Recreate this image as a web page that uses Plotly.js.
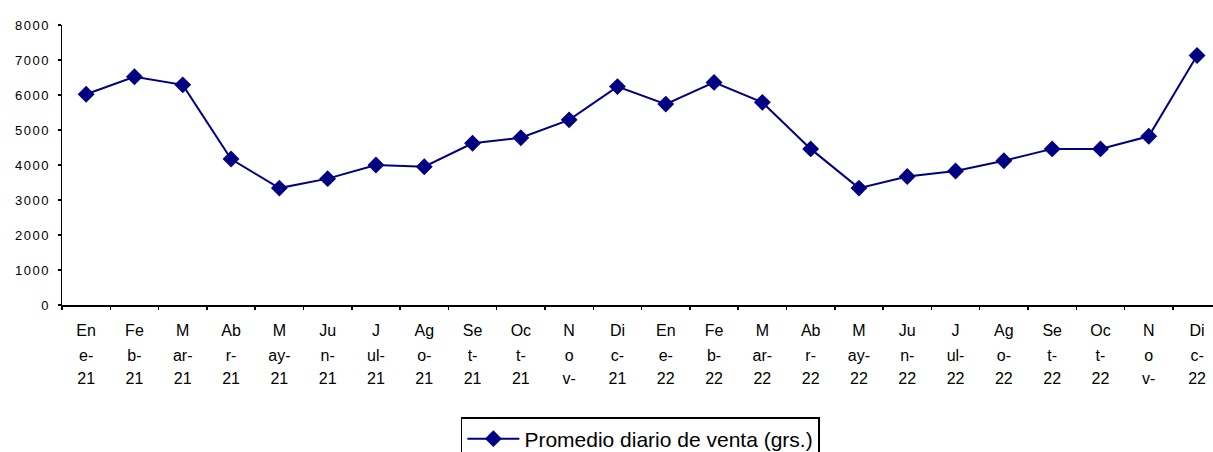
<!DOCTYPE html>
<html>
<head>
<meta charset="utf-8">
<script src="https://cdn.plot.ly/plotly-3.0.1.min.js"></script>
<style>
html,body{margin:0;padding:0;background:#fff;}
#chart{width:1213px;height:452px;}
.ytick text{letter-spacing:1.5px;}
</style>
</head>
<body>
<div id="chart"></div>
<script>
// Categories (month-year)
var categories = ["Ene-21","Feb-21","Mar-21","Abr-21","May-21","Jun-21","Jul-21","Ago-21","Set-21","Oct-21","Nov-21","Dic-21",
                  "Ene-22","Feb-22","Mar-22","Abr-22","May-22","Jun-22","Jul-22","Ago-22","Set-22","Oct-22","Nov-22","Dic-22"];
// Series values: Promedio diario de venta (grs.)
var ventas = [6020, 6520, 6290, 4170, 3340, 3610, 4000, 3950, 4620, 4780, 5290, 6240,
              5740, 6360, 5790, 4460, 3340, 3670, 3830, 4120, 4460, 4460, 4820, 7130];
// Tick labels, wrapped over three lines as in the original
var tickLine1 = ["En","Fe","M","Ab","M","Ju","J","Ag","Se","Oc","N","Di",
                 "En","Fe","M","Ab","M","Ju","J","Ag","Se","Oc","N","Di"];
var tickLine2 = ["e-","b-","ar-","r-","ay-","n-","ul-","o-","t-","t-","o","c-",
                 "e-","b-","ar-","r-","ay-","n-","ul-","o-","t-","t-","o","c-"];
var tickLine3 = ["21","21","21","21","21","21","21","21","21","21","v-","21",
                 "22","22","22","22","22","22","22","22","22","22","v-","22"];
var yTicks = [0,1000,2000,3000,4000,5000,6000,7000,8000];
var seriesName = "Promedio diario de venta (grs.)";

var idx = categories.map(function(_, i){ return i; });
var xr = [-0.5, 23.33];
var navy = "#000080";

var trace = {
  x: idx, y: ventas, type: "scatter", mode: "lines+markers",
  name: seriesName,
  line: {color: navy, width: 2},
  marker: {symbol: "diamond", size: 13, color: navy}
};
function helperTrace(axis){
  return {x: [], y: [], type: "scatter", mode: "lines", xaxis: axis, yaxis: "y",
          showlegend: false, hoverinfo: "skip"};
}

var tickFont = {family: "Liberation Sans, Arial, sans-serif", size: 16, color: "#000"};
function overlayAxis(text, standoff){
  return {
    overlaying: "x", anchor: "y", side: "bottom", type: "linear", range: xr, autorange: false,
    tickmode: "array", tickvals: idx, ticktext: text,
    showline: false, showgrid: false, zeroline: false, ticks: "",
    tickfont: tickFont, ticklabelstandoff: standoff, automargin: false
  };
}

var layout = {
  width: 1213, height: 452,
  margin: {l: 62, r: 0, t: 25, b: 147, pad: 0, autoexpand: false},
  paper_bgcolor: "#fff", plot_bgcolor: "#fff",
  showlegend: true,
  xaxis: {
    type: "linear", range: xr, autorange: false,
    tickmode: "array", tickvals: idx, ticktext: tickLine1,
    showline: true, linecolor: "#000", linewidth: 1.5,
    showgrid: false, zeroline: false, automargin: false,
    ticks: "", tickfont: tickFont, ticklabelstandoff: 10
  },
  xaxis2: overlayAxis(tickLine2, 39),
  xaxis3: overlayAxis(tickLine3, 62),
  xaxis4: {
    overlaying: "x", anchor: "y", side: "bottom", type: "linear", range: xr, autorange: false,
    tickmode: "array", tickvals: idx.concat([23]).map(function(v){ return v - 0.5; }),
    showticklabels: false, showline: false, showgrid: false, zeroline: false, automargin: false,
    ticks: "outside", ticklen: 4, tickwidth: 1.5, tickcolor: "#000"
  },
  yaxis: {
    range: [0, 8000], autorange: false, tickmode: "array", tickvals: yTicks,
    showline: true, linecolor: "#000", linewidth: 1.5,
    showgrid: false, zeroline: false, automargin: false,
    ticks: "outside", ticklen: 3, tickwidth: 1.5, tickcolor: "#000",
    tickfont: {family: "Liberation Sans, Arial, sans-serif", size: 13, color: "#000"},
    ticklabelstandoff: 5
  },
  legend: {
    orientation: "h", x: 0.5025, xanchor: "center", y: -0.400, yanchor: "top",
    bordercolor: "#000", borderwidth: 1.5, bgcolor: "#fff",
    font: {family: "Liberation Sans, Arial, sans-serif", size: 21, color: "#000"},
    itemwidth: 52
  }
};

Plotly.newPlot("chart", [trace, helperTrace("x2"), helperTrace("x3"), helperTrace("x4")], layout,
               {displayModeBar: false, staticPlot: true});
</script>
</body>
</html>
